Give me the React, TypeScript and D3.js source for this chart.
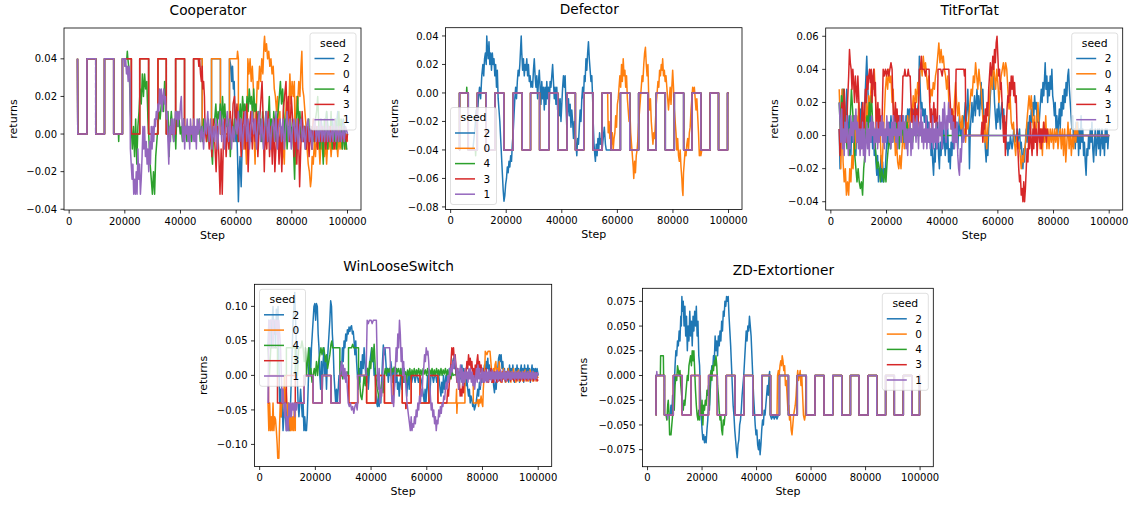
import React from 'react';
import * as d3 from 'd3';

type P = [number, number];

const seeds = ['2', '0', '4', '3', '1'];
const colors = ['#1f77b4', '#ff7f0e', '#2ca02c', '#d62728', '#9467bd'];
const xTicks = [0, 20000, 40000, 60000, 80000, 100000];
const xDomain = [-1850, 104850];

const seg = (a: P[], lo: number, hi: number): P[] => a.filter(p => p[0] >= lo && p[0] <= hi);

// ---------------- Cooperator ----------------
const coopWave: P[] = [[3000,.04],[3100,0],[6400,0],[6400,.04],[9550,.04],[9550,0],[12700,0],[12700,.04],[16000,.04],[16000,0],[19150,0],[19150,.04]];
const coopWave2: P[] = [[22350,.04],[22350,0],[25350,0],[25350,.04],[28550,.04],[28550,0],[31900,0],[31900,.04],[34900,.04],[34900,0],[38250,0],[38250,.04],[41450,.04],[41450,0],[44700,0],[44700,.04],[47800,.04],[47800,0],[51150,0],[51150,.04],[54350,.04],[54350,0],[57600,0],[57600,.04]];

const coopBlue: P[] = [...coopWave, ...coopWave2,
  [58100,.036],[58400,.028],[58700,.036],[59000,.024],[59300,.028],[59600,.008],[59900,-.004],[60200,.004],[60500,-.012],[60800,-.036],[61100,-.02],[61400,-.012],[61800,-.028],[62200,-.004],[62600,.004],
  [63500,-.004],[64500,.004],[65500,-.004],[66500,.004],[67500,-.004],[68500,.004],[69500,-.004],[70500,.004],[71500,-.004],[72500,.004],[73500,-.004],[74500,.004],[75500,-.004],[76500,.004],[77500,-.004],[78500,.004],[79500,-.004],[80500,.004],[81500,-.004],[82500,.004],[83500,-.004],[84500,.004],[85500,-.004],[86500,.004],[87500,-.004],[88500,.004],[89500,-.004],[90500,.008],[91500,-.004],[92500,.012],[93500,-.004],[94500,.008],[95500,-.004],[96500,.012],[97500,0],[98500,.008],[99500,-.004],[100000,0]];

const coopOrange: P[] = [...coopWave, ...coopWave2,
  [60300,.04],[60500,.044],[60800,.04],[60800,0],[61300,.004],[61800,-.004],[62300,.004],[62800,-.008],[63300,0],[63700,-.016],[64000,.004],[64200,.04],[64600,.032],[65000,.04],[65400,.028],[65800,.036],[66200,.024],[66500,-.004],[66800,-.016],[67200,.012],[67600,.028],[68000,.024],[68400,.036],[68800,.028],[69200,.04],[69600,.032],[70000,.048],[70200,.052],[70500,.044],[70900,.048],[71300,.04],[71700,.044],[72100,.036],[72500,.04],[72900,.032],[73300,.036],[73700,.024],[74100,.02],[74500,.012],[74900,.02],[75300,.004],[75700,.012],[76100,-.008],[76500,-.016],[76900,-.004],[77300,-.016],[77700,.008],[78100,.02],[78500,.004],[78900,.012],[79300,.032],[79700,.016],[80100,.028],[80500,.02],[80900,.028],[81300,-.016],[81700,.02],[82100,.016],[82500,.028],[82900,.02],[83300,.036],[83600,.044],[83900,.024],[84300,.02],[84700,.012],[85100,.004],[85500,-.008],[85900,-.016],[86300,-.02],[86700,-.028],[87000,-.024],[87300,-.012],[87700,-.016],[88100,-.004],[88500,-.012],[88900,0],[89300,-.008],[89700,-.004],[90100,-.016],[90500,-.004],[90900,-.008],[91300,0],[91700,-.012],[92100,-.004],[92500,-.016],[92900,-.004],[93300,-.008],[93700,0],[94100,-.012],[94500,-.004],[94900,-.008],[95300,0],[95700,-.008],[96100,-.004],[96500,-.012],[96900,0],[97300,-.008],[97700,-.004],[98100,-.008],[98500,0],[98900,-.004],[99300,-.008],[99700,0],[100000,-.004]];

const coopGreen: P[] = [...seg(coopWave, 3000, 16000), [17700,0],[17800,-.004],[17900,0],[19150,0],[19150,.04],
  [20700,.04],[20900,.044],[21100,.04],[21400,.036],[21700,.028],[22000,.012],[22300,.004],[22700,-.008],[23100,.004],[23500,-.012],[23900,.008],[24300,-.016],[24700,.004],[25100,.012],[25500,.024],[25900,.016],[26300,.032],[26700,.02],[27100,.032],[27500,.024],[27900,.028],[28300,.008],[28700,-.004],[29100,-.016],[29500,-.024],[29900,-.032],[30300,-.02],[30700,-.032],[31100,-.012],[31500,-.004],[31900,.004],[32300,.012],[32700,.008],[33100,.016],[33500,.02],[33900,.012],[34300,.028],[34700,.016],[35100,.008],[35500,.012],[35900,-.012],[36300,.004],[36700,.012],[37100,.004],[37500,-.004],[37900,.008],[38300,-.008],[38700,.012],[39100,.004],[39500,.008],[39900,0],[40300,.004],[40700,-.004],[41100,.008],[41500,0],[41900,.004],[42300,-.004],[42700,.004],[43100,0],[43500,.004],[43900,-.004],[44300,.004],[44700,0],[45100,.004],[45500,-.004],[45900,.004],[46300,0],[46700,.008],[47100,-.004],[47500,.004],[47900,-.004],[48300,.008],[48700,0],[49100,.004],[49500,-.004],[49900,.008],[50300,-.004],[50700,.004],[51100,-.008],[51500,-.016],[51900,.004],[52300,.008],[52700,.016],[53100,.004],[53500,.012],[53900,.008],[54300,.016],[54700,.004],[55100,.02],[55500,.008],[55900,.016],[56300,.004],[56700,.008],[57100,-.004],[57500,.008],[57900,-.012],[58300,.004],[58700,.008],[59100,-.004],[59500,.008],[59900,0],[60300,.004],[60700,-.004],[61100,.008],[61500,.016],[61900,.004],[62300,.02],[62700,.012],[63100,.016],[63500,.008],[63900,.02],[64300,.012],[64700,.024],[65100,.016],[65500,.02],[65900,.008],[66300,.024],[66700,.012],[67100,.016],[67500,.004],[67900,.012],[68300,0],[68700,.008],[69100,-.004],[69500,.012],[69900,-.008],[70300,.004],[70700,.012],[71100,-.004],[71500,.008],[71900,.02],[72300,0],[72700,.008],[73100,-.008],[73500,.012],[73900,.004],[74300,-.004],[74700,.008],[75100,.012],[75500,.02],[75900,.028],[76300,.016],[76700,.024],[77100,.012],[77500,0],[77900,.008],[78300,-.008],[78700,.004],[79100,-.004],[79500,.008],[79900,0],[80300,.004],[80700,-.012],[81000,-.024],[81300,-.004],[81700,.008],[82100,.02],[82500,.004],[82900,.012],[83300,0],[83700,.008],[84100,-.004],[84500,.004],[84900,-.008],[85300,.004],[85700,-.004],[86100,.008],[86500,-.004],[86900,.004],[87300,-.008],[87700,.004],[88100,-.004],[88500,.008],[88900,.012],[89300,.02],[89700,.004],[90100,-.008],[90500,.004],[90900,-.004],[91300,-.016],[91700,.008],[92100,-.004],[92500,.012],[92900,-.008],[93300,.004],[93700,-.004],[94100,.012],[94500,-.008],[94900,.004],[95300,-.004],[95700,.008],[96100,-.008],[96500,.004],[96900,.012],[97300,-.004],[97700,.008],[98100,-.008],[98500,.004],[98900,-.008],[99300,0],[99700,-.008],[100000,-.008]];

const coopRed: P[] = [...coopWave, ...seg(coopWave2, 22350, 44700),
  [46400,.04],[46600,.036],[46900,.04],[47200,.032],[47500,.028],[47800,.036],[48000,.024],[48300,.028],[48600,.02],[48800,.004],[49300,-.004],[49800,.008],[50300,-.008],[50800,.004],[51300,-.012],[51800,.008],[52300,-.004],[52800,-.02],[53300,.004],[53800,-.012],[54200,-.032],[54600,-.008],[55000,-.032],[55400,-.004],[55900,.008],[56400,-.012],[56900,.004],[57400,-.008],[57900,.012],[58400,-.004],[58900,.016],[59400,.02],[59800,.004],[60300,.016],[60800,-.004],[61300,.008],[61800,-.012],[62300,.004],[62800,.012],[63300,-.008],[63800,.016],[64300,-.02],[64800,.004],[65300,.012],[65800,-.008],[66300,.008],[66800,-.004],[67300,.012],[67800,-.012],[68300,.004],[68800,.016],[69300,.028],[69700,.008],[70100,-.02],[70500,.004],[71000,-.008],[71500,.012],[72000,-.012],[72500,.004],[73000,-.016],[73500,.008],[73900,-.02],[74400,-.004],[74900,.008],[75400,-.016],[75900,.004],[76400,-.02],[76900,.012],[77400,.02],[77900,.028],[78300,.008],[78800,.02],[79300,-.004],[79800,.02],[80300,.008],[80800,-.012],[81300,.004],[81800,-.016],[82300,.008],[82800,-.028],[83200,-.008],[83700,.012],[84200,-.004],[84700,.004],[85200,-.008],[85700,.004],[86200,-.012],[86700,.004],[87200,-.008],[87700,.008],[88200,-.004],[88700,.004],[89200,-.008],[89700,0],[90200,-.004],[90700,.004],[91200,-.004],[91700,0],[92200,-.008],[92700,0],[93200,-.004],[93700,.004],[94200,-.004],[94700,0],[95200,-.008],[95700,-.004],[96200,0],[96700,-.004],[97200,.004],[97700,-.004],[98200,0],[98700,-.004],[99200,0],[99700,-.004],[100000,0]];

const coopPurple: P[] = [...coopWave,
  [19800,.04],[20000,.036],[20300,.04],[20600,.032],[20900,.036],[21200,.028],[21500,.036],[21800,.032],[22000,-.008],[22300,-.016],[22600,-.024],[22900,-.016],[23200,-.032],[23500,-.024],[23800,-.032],[24100,-.02],[24400,-.032],[24700,-.008],[25000,-.024],[25300,-.016],[25600,-.032],[25900,-.024],[26200,-.012],[26500,.004],[26800,-.008],[27100,.004],[27400,-.012],[27700,-.004],[28000,-.016],[28300,-.008],[28600,-.02],[28900,-.004],[29200,-.016],[29500,.004],[29800,-.008],[30100,.004],[30400,-.004],[30700,.008],[31000,.004],[31300,.012],[31600,.008],[31900,.016],[32200,.012],[32500,.024],[32800,.016],[33100,.024],[33400,.012],[33700,.02],[34000,.024],[34300,.016],[34600,.02],[34900,.008],[35200,.012],[35500,-.004],[35800,-.016],[36100,.004],[36400,-.004],[36700,.008],[37000,0],[37300,.008],[37600,-.004],[37900,.004],[38200,.012],[38500,.008],[38800,.012],[39100,.004],[39400,.012],[39700,.008],[40000,.016],[40300,.02],[40600,.004],[40900,-.004],[41200,.008],[41500,-.008],[41800,.004],[42100,0],[42400,.008],[42700,-.004],[43000,.004],[43300,-.008],[43600,.008],[43900,0],[44200,.004],[44500,-.004],[44800,.008],[45100,-.004],[45400,.004],[45700,-.008],[46000,.008],[46300,0],
  [46800,.008],[47300,-.004],[47800,.004],[48300,-.008],[48800,.008],[49300,0],[49800,.012],[50300,-.004],[50800,.008],[51300,-.008],[51800,.004],[52300,-.004],[52800,.008],[53300,-.008],[53800,.004],[54300,.012],[54800,-.004],[55300,.008],[55800,-.008],[56300,.004],[56800,.012],[57300,-.004],[57800,.008],[58300,-.008],[58800,.004],[59300,-.004],[59800,.008],[60300,0],[60800,.012],[61300,-.004],[61800,.008],[62300,-.008],[62800,.004],[63300,.012],[63800,-.004],[64300,.008],[64800,-.008],[65300,.004],[65800,.012],[66300,0],[66800,.008],[67300,-.008],[67800,.004],[68300,.012],[68800,-.004],[69300,.008],[69800,-.008],[70300,.004],[70800,.012],[71300,-.004],[71800,.008],[72300,-.008],[72800,.004],[73300,.008],[73800,-.004],[74300,.012],[74800,-.008],[75300,.004],[75800,.008],[76300,-.004],[76800,.008],[77300,-.008],[77800,.004],[78300,.012],[78800,-.004],[79300,.008],[79800,-.008],[80300,.004],[80800,.008],[81300,-.004],[81800,.008],[82300,-.008],[82800,.004],[83300,.008],[83800,-.004],[84300,.004],[84800,-.008],[85300,.004],[85800,.008],[86300,-.004],[86800,.004],[87300,-.008],[87800,.004],[88300,.008],[88800,-.004],[89300,.004],[89800,-.004],[90300,.008],[90800,-.004],[91300,.004],[91800,-.004],[92300,.008],[92800,-.004],[93300,.004],[93800,-.004],[94300,.004],[94800,-.004],[95300,.008],[95800,-.004],[96300,.004],[96800,-.004],[97300,.004],[97800,-.004],[98300,.004],[98800,-.004],[99300,.004],[100000,0]];

// ---------------- Defector ----------------
const defWave: P[] = [[3000,-.04],[3200,-.04],[3200,0],[6350,0],[6350,-.04],[9600,-.04],[9600,0],[12800,0],[12800,-.04],[15950,-.04],[15950,0],[19150,0],[19150,-.04],[22500,-.04],[22500,0],[25750,0],[25750,-.04],[28750,-.04],[28750,0],[32000,0],[32000,-.04],[35350,-.04],[35350,0],[38550,0],[38550,-.04],[41900,-.04],[41900,0],[44900,0],[44900,-.04],[47900,-.04],[47900,0],[51250,0],[51250,-.04],[54500,-.04],[54500,0],[57700,0],[57700,-.04],[61100,-.04],[61100,0],[64450,0],[64450,-.04],[67650,-.04],[67650,0],[71000,0],[71000,-.04],[74000,-.04],[74000,0],[77250,0],[77250,-.04],[80500,-.04],[80500,0],[83850,0],[83850,-.04],[86850,-.04],[86850,0],[90050,0],[90050,-.04],[93400,-.04],[93400,0],[96400,0],[96400,-.04],[99650,-.04],[99650,0],[100000,0]];

const defBlue: P[] = [...seg(defWave, 3000, 6350),
  [8000,-.04],[8400,-.032],[8800,-.024],[9200,-.012],[9600,-.016],[10000,-.004],[10400,.004],[10800,-.004],[11200,.012],[11600,.02],[11900,.012],[12200,.024],[12500,.028],[12800,.02],[13000,.04],[13200,.032],[13500,.024],[13800,.036],[14100,.02],[14400,.028],[14700,.016],[15000,.028],[15300,.02],[15600,.024],[15900,.012],[16200,.02],[16500,.004],[16800,.016],[17100,-.004],[17400,-.012],[17700,-.02],[18000,-.032],[18300,-.044],[18600,-.056],[18900,-.068],[19200,-.076],[19500,-.072],[19800,-.064],[20100,-.06],[20400,-.052],[20700,-.056],[21000,-.048],[21300,-.052],[21600,-.044],[21900,-.048],[22200,-.036],[22500,-.028],[22800,-.016],[23100,-.004],[23400,.004],[23700,-.004],[24000,.008],[24300,.016],[24600,.012],[24900,.02],[25200,.032],[25400,.04],[25600,.028],[25900,.016],[26200,.024],[26500,.012],[26800,.02],[27100,.016],[27400,.024],[27700,.012],[28000,.02],[28300,.008],[28600,.012],[28900,.004],[29200,.008],[29500,.004],[29800,.016],[30100,.024],[30400,.012],[30700,.004],[31000,.012],[31300,-.004],[31600,.008],[31900,.016],[32200,.004],[32500,-.008],[32800,.008],[33100,-.004],[33400,.004],[33700,-.012],[34000,.004],[34300,-.008],[34600,.008],[34900,-.004],[35200,.004],[35500,-.008],[35800,.008],[36100,.004],[36400,.012],[36700,.02],[37000,.008],[37300,-.004],[37600,.004],[37900,-.008],[38200,.004],[38500,-.012],[38800,-.004],[39100,-.016],[39400,-.004],[39700,-.02],[40000,-.008],[40300,.004],[40600,.012],[40900,.004],[41200,.012],[41500,-.008],[41800,-.024],[42100,-.012],[42400,-.004],[42700,-.016],[43000,-.008],[43300,-.024],[43600,-.012],[43900,-.02],[44200,-.032],[44500,-.02],[44800,-.028],[45100,-.036],[45400,-.044],[45700,-.032],[46000,-.036],[46300,-.024],[46600,-.012],[46900,-.02],[47200,-.004],[47500,.004],[47800,-.004],[48100,.012],[48400,.008],[48700,.024],[49000,.016],[49300,.028],[49600,.036],[49900,.024],[50200,.016],[50500,.008],[50800,.012],[51100,-.004],[51300,-.02],[51600,-.036],[51900,-.044],[52100,-.048],[52400,-.036],[52700,-.044],[53000,-.032],[53300,-.04],[53600,-.028],[53900,-.036],[54200,-.032],[54500,-.04],[54900,-.032],[55300,-.024],[55700,-.036],[56000,-.04],
  ...seg(defWave, 61100, 100000)];

const defOrange: P[] = [...seg(defWave, 3000, 54500),
  [56500,0],[56700,-.028],[57000,-.02],[57300,-.032],[57600,-.024],[57900,-.036],[58200,-.028],[58500,-.04],[58800,-.032],[59100,-.028],[59400,-.016],[59700,-.024],[60000,-.008],[60300,-.004],[60600,.004],[60900,.012],[61200,.004],[61500,.02],[61800,.008],[62100,.024],[62400,.012],[62700,.016],[63000,.004],[63300,.012],[63600,-.004],[63900,-.012],[64200,-.02],[64500,-.012],[64800,-.028],[65100,-.036],[65400,-.044],[65700,-.052],[65900,-.06],[66200,-.048],[66500,-.056],[66800,-.044],[67100,-.04],[67400,-.032],[67700,-.02],[68000,-.012],[68300,-.004],[68600,.004],[68900,.012],[69200,.008],[69500,.02],[69800,.028],[70100,.032],[70400,.02],[70700,.012],[71000,.02],[71300,-.004],[71600,-.012],[71900,-.004],[72200,-.02],[72500,-.028],[72800,-.036],[73100,-.028],[73400,-.032],[73700,-.02],[74000,-.008],[74300,0],[74600,.008],[74900,.004],[75200,.016],[75500,.012],[75800,.02],[76100,.016],[76300,.024],[76600,.012],[76900,.016],[77200,.008],[77500,.012],[77800,.004],[78100,-.004],[78400,-.012],[78700,-.004],[79000,.004],[79300,-.008],[79600,.004],[79900,.016],[80200,.004],[80500,-.012],[80800,-.02],[81100,-.028],[81400,-.04],[81700,-.032],[82000,-.044],[82300,-.048],[82600,-.04],[82900,-.052],[83200,-.06],[83400,-.068],[83600,-.072],[83800,-.056],[84100,-.048],[84400,-.04],[84700,-.044],[85000,-.036],[85300,-.032],[85600,-.04],[85900,-.028],[86200,-.024],[86500,-.012],[86800,-.004],[87100,.004],[87400,0],[87700,.004],[88000,-.004],[88300,-.012],[88600,-.004],[88900,-.016],[89200,-.028],[89500,-.044],[89800,-.04],[90050,-.044],[90400,-.04],
  ...seg(defWave, 93400, 100000)];

const defGreen: P[] = [[3000,-.04],[3200,-.04],[3200,0],[5700,0],[5800,.004],[5900,0],[6350,0],[6350,-.04],[8900,-.04],[9000,-.044],[9100,-.04], ...seg(defWave, 9600, 100000)];
const defRed: P[] = defWave;
const defPurple: P[] = defWave;

// ---------------- TitForTat ----------------
const ttBlue: P[] = [[3000,.004],[3300,-.02],[3600,-.008],[3900,.012],[4200,.028],[4500,.004],[4800,.02],[5100,-.004],[5400,.012],[5700,.028],[6000,.008],[6300,-.008],[6600,.012],[6900,.004],[7200,-.012],[7500,.008],[7800,-.004],[8100,.012],[8400,-.008],[8700,.004],[9000,-.012],[9300,.008],[9600,-.004],[9900,.012],[10200,0],[10500,.016],[10800,.004],[11100,.02],[11400,.008],[11700,-.004],[12000,.012],[12300,.024],[12600,.036],[12900,.048],[13200,.032],[13500,.02],[13800,.008],[14100,.016],[14400,-.004],[14700,.008],[15000,-.008],[15300,.004],[15600,-.012],[15900,-.004],[16200,-.016],[16500,-.024],[16800,-.012],[17100,-.028],[17400,-.02],[17700,-.024],[18000,-.012],[18300,-.028],[18600,-.016],[18900,-.028],[19200,-.02],[19500,-.024],[19800,-.012],[20100,-.004],[20400,.004],[20700,-.008],[21000,.008],[21300,0],[21600,.012],[21900,.004],[22200,-.004],[22500,.008],[22800,0],[23100,.012],[23400,-.004],[23700,.008],[24000,-.008],[24300,.004],[24600,.012],[24900,0],[25200,.008],[25500,-.004],[25800,.012],[26100,.004],[26400,.008],[26700,-.004],[27000,.012],[27300,.004],[27600,.016],[27900,.008],[28200,.016],[28500,.008],[28800,.016],[29100,.012],[29400,.016],[29700,.008],[30000,.016],[30300,.012],[30600,.016],[30900,.008],[31200,.016],[31500,.02],[31800,.048],[32100,.028],[32400,.016],[32700,.02],[33000,.012],[33300,.016],[33600,.008],[33900,.016],[34200,.004],[34500,.012],[34800,.004],[35100,.008],[35400,-.004],[35700,.004],[36000,-.012],[36300,-.004],[36600,-.016],[36900,-.024],[37200,-.008],[37500,-.016],[37800,.004],[38100,-.008],[38400,.008],[38700,-.012],[39000,-.02],[39300,-.004],[39600,-.012],[39900,.004],[40200,-.008],[40500,.008],[40800,-.004],[41100,-.012],[41400,0],[41700,-.008],[42000,.004],[42300,-.016],[42600,-.008],[42900,-.02],[43200,-.004],[43500,-.012],[43800,.004],[44100,-.008],[44400,.008],[44700,.012],[45000,-.004],[45300,.008],[45600,-.008],[45900,.004],[46200,.012],[46500,0],[46800,.008],[47100,-.004],[47400,.012],[47700,.004],[48000,.012],[48300,.02],[48600,.008],[48900,.016],[49200,.028],[49500,.012],[49800,-.02],[50100,.004],[50400,.012],[50700,.02],[51000,.008],[51300,.016],[51600,.024],[51900,.012],[52200,.02],[52500,.028],[52800,.016],[53100,.024],[53400,.012],[53700,.02],[54000,.032],[54300,.016],[54600,.028],[54900,.012],[55200,.004],[55500,-.008],[55800,-.016],[56100,-.004],[56400,-.012],[56700,.004],[57000,.012],[57300,.024],[57600,.032],[57900,.04],[58200,.028],[58500,.036],[58800,.02],[59100,.012],[59400,.004],[59700,.016],[60000,.008],[60300,.02],[60600,.012],[60900,.004],[61200,.016],[61500,.02],[61800,.008],[62100,.016],[62400,0],[62700,.008],[63000,-.008],[63300,-.004],[63600,-.012],[63900,-.004],[64200,-.008],[64500,0],[64800,-.004],[65100,-.008],[65400,-.004],[65700,.004],[66000,-.004],[66300,0],[66600,-.004],[66900,.004],[67200,-.004],[67500,0],[67800,.004],[68100,-.008],[68400,-.004],[68700,-.012],[69000,-.02],[69300,-.008],[69600,-.016],[69900,-.004],[70200,.004],[70500,-.004],[70800,.008],[71100,0],[71400,.012],[71700,.004],[72000,.016],[72300,.008],[72600,.02],[72900,.012],[73200,.024],[73500,.016],[73800,.02],[74100,.008],[74400,.016],[74700,.004],[75000,.012],[75300,.02],[75600,.028],[75900,.02],[76200,.032],[76500,.024],[76800,.036],[77000,.044],[77300,.028],[77600,.036],[77900,.02],[78200,.032],[78500,.024],[78800,.036],[79100,.028],[79400,.04],[79700,.024],[80000,.02],[80300,.012],[80600,.02],[80900,.004],[81200,.012],[81500,0],[81800,.008],[82100,.016],[82400,.004],[82700,.02],[83000,.012],[83300,.024],[83600,.016],[83900,.028],[84200,.02],[84500,.032],[84800,.024],[85100,.036],[85400,.04],[85700,.028],[86000,.02],[86300,.012],[86600,.004],[86900,.012],[87200,-.004],[87500,.004],[87800,-.008],[88100,.008],[88400,-.004],[88700,.008],[89000,-.012],[89300,.004],[89600,-.008],[89900,.012],[90200,-.004],[90500,.004],[90800,-.012],[91100,-.004],[91400,-.016],[91700,-.024],[92000,-.008],[92300,-.012],[92600,0],[92900,-.008],[93200,.004],[93500,-.004],[93800,.008],[94100,-.008],[94400,-.016],[94700,-.004],[95000,.004],[95300,-.012],[95600,-.004],[95900,.004],[96200,-.008],[96500,.004],[96800,-.012],[97100,-.004],[97400,.004],[97700,-.008],[98000,0],[98300,-.012],[98600,.004],[98900,-.004],[99200,.004],[99500,-.008],[99800,0],[100000,0]];

const ttOrange: P[] = [[3000,.028],[3300,.012],[3600,-.02],[4000,.028],[4400,-.016],[4800,-.028],[5200,-.02],[5600,-.036],[6000,-.028],[6400,-.036],[6800,-.02],[7200,-.028],[7600,-.012],[8000,-.02],[8400,.004],[8800,-.008],[9200,.012],[9600,-.004],[10000,.02],[10400,.004],[10800,-.008],[11200,.008],[11600,-.004],[12000,.012],[12400,.004],[12800,.02],[13200,.008],[13600,.024],[14000,.016],[14400,.028],[14800,.036],[15200,.028],[15600,.04],[16000,.024],[16400,.004],[16800,.016],[17200,-.004],[17600,.008],[18000,-.012],[18400,-.02],[18800,-.004],[19200,.012],[19600,.028],[20000,.036],[20400,.028],[20800,.04],[21200,.032],[21600,.036],[22000,.02],[22400,.028],[22800,.004],[23200,-.012],[23600,-.004],[24000,-.016],[24400,-.02],[24800,-.012],[25200,-.02],[25600,-.008],[26000,.004],[26400,-.008],[26800,.008],[27200,-.004],[27600,.012],[28000,0],[28400,.008],[28800,.016],[29200,.012],[29600,.024],[30000,.016],[30400,.028],[30800,.02],[31200,.032],[31600,.024],[32000,.04],[32400,.044],[32800,.036],[33200,.048],[33600,.04],[34000,.044],[34400,.036],[34800,.028],[35200,.036],[35600,.02],[36000,.028],[36400,.024],[36800,.032],[37200,.028],[37600,.036],[38000,.04],[38400,.048],[38800,.056],[39200,.044],[39600,.052],[40000,.044],[40400,.048],[40800,.04],[41200,.036],[41600,.028],[42000,.036],[42400,.02],[42800,.012],[43200,.004],[43600,.016],[44000,.008],[44400,.02],[44800,.032],[45200,.02],[45600,.012],[46000,.02],[46400,.008],[46800,.004],[47200,.012],[47600,0],[48000,.004],[48400,-.004],[48800,.008],[49200,.004],[49600,.012],[50000,.02],[50400,.028],[50800,.024],[51200,.036],[51600,.032],[52000,.044],[52400,.036],[52800,.028],[53200,.04],[53600,.032],[54000,.028],[54400,.016],[54800,.004],[55200,-.004],[55600,.008],[56000,-.008],[56400,.004],[56800,.012],[57200,.028],[57600,.036],[58000,.028],[58400,.044],[58800,.036],[59200,.028],[59600,.04],[60000,.032],[60400,.02],[60800,.028],[61200,.036],[61600,.04],[62000,.044],[62400,.036],[62800,.044],[63200,.04],[63600,.028],[64000,.016],[64400,.024],[64800,.008],[65200,.004],[65600,.008],[66000,-.004],[66400,-.012],[66800,0],[67200,-.008],[67600,-.004],[68000,-.012],[68400,-.02],[68800,-.012],[69200,-.016],[69600,-.008],[70000,-.004],[70400,.008],[70800,.016],[71200,.024],[71600,.016],[72000,.024],[72400,.012],[72800,.004],[73200,.012],[73600,-.004],[74000,.008],[74400,.02],[74800,.004],[75200,-.008],[75600,.004],[76000,-.012],[76400,.008],[76800,-.004],[77200,.012],[77600,-.008],[78000,.004],[78400,-.008],[78800,.004],[79200,-.004],[79600,.004],[80000,-.008],[80400,.004],[80800,-.004],[81200,.004],[81600,-.008],[82000,0],[82400,.004],[82800,-.008],[83200,.004],[83600,-.012],[84000,.004],[84400,-.016],[84800,-.004],[85200,.008],[85600,-.008],[86000,.004],[86400,-.012],[86800,0],[87200,-.008],[87600,.004],[88000,-.004],[88400,.008],[88800,0],[100000,0]];

const ttGreen: P[] = [[3000,.02],[3400,.004],[3800,.024],[4200,.012],[4600,.028],[5000,.016],[5400,.004],[5800,-.008],[6200,.004],[6600,-.012],[7000,.012],[7400,.028],[7800,.016],[8200,.004],[8600,-.012],[9000,-.02],[9400,-.028],[9800,-.02],[10200,-.028],[10600,-.032],[11000,-.028],[11400,-.036],[11800,-.02],[12200,-.012],[12600,.004],[13000,.012],[13400,.004],[13800,.02],[14200,.012],[14600,.024],[15000,.008],[15400,.004],[15800,-.004],[16200,-.012],[16600,-.02],[17000,-.016],[17400,-.02],[17800,-.028],[18200,-.02],[18600,-.024],[19000,-.028],[19400,-.02],[19800,-.028],[20200,-.016],[20600,-.008],[21000,0],[21400,-.008],[21800,.004],[22200,-.004],[22600,.008],[23000,0],[23400,.008],[23800,-.004],[24200,.004],[24600,-.008],[25000,.004],[25400,0],[25800,.008],[26200,-.004],[26600,.004],[27000,0],[27400,.008],[27800,-.004],[28200,.004],[28600,0],[29000,.004],[29400,-.004],[29800,.004],[30200,0],[30600,.004],[31000,0],[48400,0],[100000,0]];

const ttRed: P[] = [[3000,.004],[3300,-.012],[3600,.008],[4000,.02],[4400,.004],[4800,.028],[5200,.012],[5600,-.004],[6000,.02],[6400,.036],[6700,.052],[7000,.044],[7300,.04],[7600,.028],[7900,.04],[8200,.032],[8500,.02],[8800,.036],[9100,.028],[9400,.02],[9700,.036],[10000,.024],[10300,.008],[10600,-.008],[10900,.004],[11200,.016],[11500,.02],[11800,-.004],[12100,.012],[12400,.028],[12700,.02],[13000,.036],[13300,.028],[13600,.036],[13900,.04],[14200,.032],[14500,.04],[14800,.02],[15100,.036],[15400,.04],[15700,.024],[16000,.032],[16300,.004],[16600,.012],[16900,.02],[17200,.004],[17500,.016],[17800,0],[18100,.012],[18400,.008],[18800,.04],[19200,.036],[19600,.04],[20000,.036],[20400,.04],[20800,.036],[21200,.04],[21600,.044],[22000,.04],[22300,.02],[22600,.004],[22900,.012],[23200,.02],[23500,.008],[23800,.016],[24100,.004],[24400,.012],[24700,0],[25000,.012],[25300,.008],[25600,.016],[25900,.036],[26300,.036],[26600,.04],[26900,.036],[27500,.036],[27800,.04],[28100,.036],[28500,.036],[28800,.02],[29100,.008],[29400,.016],[29700,.004],[30000,.012],[30300,.02],[30600,.008],[30900,.016],[31200,.004],[31500,.012],[31800,.04],[32200,.04],[32500,.048],[32800,.04],[33500,.04],[34000,.036],[34300,.04],[35300,.04],[35500,.02],[35800,.008],[36100,.016],[36400,.004],[36700,.012],[37000,.02],[37300,.008],[37600,.016],[37900,.004],[38300,.012],[38500,.04],[39500,.04],[40000,.036],[40300,.04],[42400,.04],[42600,.028],[42900,.02],[43200,.008],[43500,.016],[43800,.004],[44100,.012],[44400,0],[44700,.008],[45000,.04],[47800,.04],[48000,.036],[48300,.04],[48500,0],[54000,0],[54300,.008],[54600,-.004],[54900,.012],[55200,.004],[55500,.016],[55800,.008],[56100,.02],[56400,.012],[56700,.028],[57000,.036],[57300,.044],[57600,.036],[57900,.04],[58200,.048],[58500,.04],[58800,.052],[59100,.044],[59400,.056],[59700,.06],[60000,.048],[60300,.036],[60600,.04],[60900,.028],[61200,.032],[61500,.02],[61800,.008],[62100,-.004],[62400,.012],[62700,-.012],[63000,.004],[63300,.016],[63600,.024],[63900,.02],[64200,.032],[64500,.024],[64800,.036],[65100,.028],[65400,.036],[65700,.024],[66000,.032],[66300,.02],[66600,.024],[66900,.004],[67200,-.008],[67500,-.02],[67800,-.028],[68100,-.024],[68400,-.036],[68700,-.032],[69000,-.04],[69300,-.028],[69600,-.04],[69900,-.032],[70200,-.02],[70500,-.008],[70800,-.016],[71100,0],[71400,-.008],[71700,.008],[72000,-.004],[72300,-.012],[72600,.004],[72900,-.008],[73200,.008],[73500,-.004],[73800,.004],[74100,-.012],[74400,0],[74700,.008],[75000,-.004],[75300,.004],[75600,-.008],[75900,.004],[76200,-.004],[76500,.008],[76800,0],[77100,.004],[77400,-.004],[77700,.004],[78000,0],[100000,0]];

const ttPurple: P[] = [[3000,.02],[3300,.008],[3600,-.004],[3900,.016],[4200,-.008],[4500,.004],[4800,-.012],[5100,.008],[5400,-.004],[5700,.012],[6000,0],[6300,-.012],[6600,.004],[6900,-.008],[7200,.012],[7500,0],[7800,.008],[8100,-.004],[8400,.012],[8700,.004],[9000,.016],[9300,-.004],[9600,.008],[9900,-.008],[10200,.004],[10500,-.012],[10800,.004],[11100,-.008],[11400,.008],[11700,-.012],[12000,.004],[12300,-.016],[12600,-.004],[12900,.008],[13200,-.008],[13500,.004],[13800,-.012],[14100,.008],[14400,-.004],[14700,.012],[15000,0],[15300,.008],[15600,-.008],[15900,.004],[16200,-.004],[16500,.008],[16800,-.008],[17100,.004],[17400,-.004],[17700,.008],[18000,0],[18300,.012],[18600,-.004],[18900,.008],[19200,-.008],[19500,.004],[19800,-.004],[20100,.012],[20400,0],[20700,.008],[21000,-.004],[21300,.004],[21600,-.008],[21900,.008],[22200,-.004],[22500,.012],[22800,0],[23100,.008],[23400,-.004],[23700,.004],[24000,-.008],[24300,.008],[24600,0],[24900,.012],[25200,-.004],[25500,.008],[25800,.004],[26100,.012],[26400,-.004],[26700,.008],[27000,-.008],[27300,.004],[27600,-.012],[27900,.004],[28200,-.004],[28500,.008],[28800,-.012],[29100,.004],[29400,-.008],[29700,.012],[30000,0],[30300,.008],[30600,-.004],[30900,.012],[31200,.004],[31500,-.008],[31800,.008],[32100,0],[32400,.016],[32700,-.004],[33000,.008],[33300,-.008],[33600,.004],[33900,-.004],[34200,.012],[34500,-.008],[34800,.004],[35100,-.004],[35400,.008],[35700,-.008],[36000,.004],[36300,-.004],[36600,.012],[36900,-.008],[37200,.004],[37500,-.004],[37800,.008],[38100,-.008],[38400,.004],[38700,-.004],[39000,.012],[39300,0],[39600,.008],[39900,-.008],[40200,.016],[40500,.004],[40800,.02],[41100,.008],[41400,-.004],[41700,.012],[42000,.004],[42300,.02],[42600,.008],[42900,.016],[43200,.004],[43500,.012],[43800,-.004],[44100,.008],[44400,-.008],[44700,.004],[45000,-.004],[45300,.008],[45600,-.012],[45900,-.02],[46200,-.024],[46500,-.008],[46800,-.016],[47100,-.004],[47400,.004],[47700,-.004],[48000,0],[100000,0]];

// ---------------- WinLooseSwitch ----------------
const wlsWave: P[] = [[12800,-.04],[16000,-.04],[16000,0],[19200,0],[19200,-.04],[22400,-.04],[22400,0],[25600,0],[25600,-.04],[28800,-.04],[28800,0],[32000,0],[32000,-.04],[35200,-.04],[35200,0],[38400,0],[38400,-.04],[41600,-.04],[41600,0],[44800,0],[44800,-.04],[48000,-.04],[48000,0],[51200,0],[51200,-.04],[52400,-.04],[52500,-.048],[52700,-.04],[54400,-.04],[54400,0],[57600,0],[57600,-.04],[60800,-.04],[60800,0],[64000,0],[64000,-.04],[67200,-.04]];

const wlsBlue: P[] = [[3000,.04],[3300,.08],[3600,.06],[3900,.08],[4200,.04],[4500,.08],[4800,.1],[5100,.06],[5400,.08],[5700,.04],[6000,.096],[6300,.06],[6600,.1],[6900,.02],[7200,-.04],[7500,-.02],[7800,-.06],[8100,-.04],[8400,-.08],[8700,-.06],[9000,-.02],[9300,-.06],[9600,-.08],[9900,-.04],[10200,-.08],[10500,-.06],[10800,-.08],[11100,-.04],[11400,0],[11700,.04],[12000,.08],[12300,.1],[12600,.12],[12900,.08],[13200,.04],[13500,0],[13800,-.04],[14100,-.06],[14400,-.04],[14700,-.02],[15000,-.04],[15300,-.06],[15600,-.04],[15900,-.08],[16200,-.06],[16500,-.08],[16800,-.08],[17100,-.06],[17400,-.02],[17700,.02],[18000,.04],[18300,0],[18600,.04],[18900,.06],[19200,.08],[19500,.1],[19800,.104],[20100,.08],[20400,.104],[20700,.1],[21000,.06],[21300,.04],[21600,0],[21900,-.02],[22200,.02],[22500,-.02],[22800,.02],[23100,.04],[23400,0],[23700,.02],[24000,-.02],[24300,.02],[24600,.04],[24900,.06],[25200,.08],[25500,.108],[25800,.1],[26100,.06],[26400,.04],[26700,0],[27000,-.02],[27300,-.04],[27600,-.02],[27900,-.04],[28200,-.02],[28500,0],[28800,-.02],[29100,.02],[29400,0],[29700,.04],[30000,.02],[30300,.05],[30600,.04],[30900,.06],[31200,.05],[31500,.066],[31800,.06],[32100,.07],[32400,.064],[32700,.07],[33000,.072],[33300,.06],[33600,.064],[33900,.05],[34200,.03],[34500,.05],[34800,.02],[35100,0],[35400,-.02],[35700,.01],[36000,-.01],[36300,.02],[36600,0],[36900,.03],[37200,.01],[37500,.04],[37800,.02],[38100,0],[38400,-.01],[38700,.01],[39000,-.02],[39300,0],[39600,.02],[39900,.03],[40200,.04],[40500,.02],[40800,.03],[41100,0],[41400,.01],[41700,-.02],[42000,-.04],[42300,-.045],[42600,-.03],[42900,-.045],[43200,-.02],[43500,-.04],[43800,-.01],[44100,.02],[44400,.044],[44700,.03],[45000,.04],[45300,.02],[45600,0],[45900,.01],[46200,-.01],[46500,.01],[46800,0],[47100,.02],[47400,.01],[47700,-.01],[48000,.01],[48300,-.02],[48600,0],[48900,-.01],[49200,.01],[49500,-.02],[49800,-.01],[50100,-.03],[50400,-.01],[50700,0],[51000,-.02],[51300,.01],[51600,-.01],[51900,.01],[52200,-.01],[52500,.005],[52800,-.03],[53100,-.01],[53400,0],[53700,-.02],[54000,.005],[54600,-.01],[55200,.005],[55800,-.01],[56400,.005],[57000,-.01],[57600,0],[58200,-.01],[58800,-.03],[59100,-.04],[59400,-.02],[59700,-.04],[60000,-.02],[60300,0],[60600,-.02],[60900,-.04],[61200,-.02],[61500,0],[61800,.005],[62400,-.01],[63000,.005],[63600,-.01],[64200,.005],[64800,-.02],[65100,-.03],[65400,-.01],[65700,-.025],[66000,0],[66300,-.02],[66600,-.01],[66900,0],[67200,-.015],[67500,.005],[67800,-.01],[68100,.01],[68400,-.005],[68700,.015],[69000,.005],[69300,.02],[69600,.025],[69900,.01],[70200,.02],[70500,0],[70800,.01],[71100,-.01],[71400,.005],[71700,-.015],[72000,.01],[72300,-.005],[72600,.015],[72900,0],[73200,.01],[73500,-.01],[73800,.005],[74100,-.015],[74400,-.005],[74700,-.02],[75000,-.03],[75300,-.02],[75600,-.04],[75900,-.03],[76200,-.035],[76500,-.045],[76800,-.04],[77100,-.05],[77400,-.045],[77700,-.04],[78000,-.03],[78300,-.02],[78600,-.03],[78900,-.01],[79200,-.02],[79500,0],[79800,-.01],[80100,.01],[80400,0],[80700,.015],[81000,.005],[81300,.02],[81600,.01],[81900,.025],[82200,.005],[82500,.015],[82800,-.005],[83100,.01],[83400,-.01],[83700,.005],[84000,-.015],[84300,-.025],[84600,-.01],[84900,-.02],[85200,0],[85500,.01],[85800,.025],[86100,.03],[86400,.02],[86700,.03],[87000,.01],[87300,.02],[87600,0],[87900,.01],[88200,-.01],[88500,.005],[88800,-.005],[89100,.01],[89400,-.01],[89700,.015],[90000,0],[90300,.01],[90600,-.005],[90900,.015],[91200,0],[91500,-.01],[91800,.01],[92100,-.005],[92400,.015],[92700,0],[93000,.01],[93300,-.01],[93600,.005],[93900,.015],[94200,-.005],[94500,.01],[94800,-.01],[95100,.015],[95400,0],[95700,.01],[96000,-.005],[96300,.015],[96600,0],[96900,.01],[97200,-.01],[97500,.005],[97800,.015],[98100,-.005],[98400,.01],[98700,0],[99000,.01],[99300,-.005],[99600,.01],[100000,0]];

const wlsOrange: P[] = [[3000,-.04],[3300,-.08],[3600,-.04],[3900,-.08],[4200,-.06],[4500,-.08],[4800,-.04],[5100,-.08],[5400,-.06],[5700,-.064],[6000,-.08],[6300,-.1],[6500,-.12],[6900,-.12],[7100,-.08],[7400,-.04],[7700,-.06],[8000,-.04],[8300,-.02],[8600,-.04],[8900,0],[9200,-.04],[9500,-.02],[9800,-.04],[10100,-.06],[10400,-.04],[10700,-.06],[11000,-.08],[11300,-.06],[11600,-.08],[11900,-.06],[12200,-.08],[12500,-.04],[12800,-.08],
  ...wlsWave,
  [70500,-.04],[70700,-.02],[70800,-.055],[71000,-.04],[73700,-.04],[73700,0],[76700,0],[76700,-.04],[78000,-.04],[78300,-.035],[78600,-.045],[78900,-.035],[79200,-.04],[79500,-.03],[79800,-.04],[80100,-.045],[80300,-.02],[80600,0],[80900,.02],[81000,.035],[81600,.03],[82000,.035],[82700,.035],[83000,.02],[83300,.005],[83600,-.01],[83900,.01],[84200,-.005],[84500,.015],[84800,.02],[85100,.005],[85400,.01],[85700,-.005],[86000,.02],[86300,.005],[86600,-.01],[86900,.005],[87200,-.005],[87500,.01],[87800,-.005],[88100,.005],[88400,-.01],[88700,.005],[89000,-.005],[89300,.01],[89600,-.005],[89900,.005],[90200,-.01],[90500,.005],[90800,-.005],[91100,.01],[91400,-.005],[91700,0],[92000,-.01],[92300,.005],[92600,-.005],[92900,.008],[93200,-.008],[93500,.005],[93800,-.005],[94100,0],[94400,-.008],[94700,.005],[95000,-.005],[95300,.008],[95600,-.008],[95900,0],[96200,.005],[96500,-.008],[96800,0],[97100,.008],[97400,-.005],[97700,0],[98000,-.008],[98300,.005],[98600,-.005],[98900,0],[99200,-.008],[99500,0],[100000,-.004]];

const wlsGreen: P[] = [[3000,.04],[3500,0],[4000,.04],[6400,.04],[6400,0],[9600,0],[9600,.04],[12800,.04],[12800,0],[13600,0],[14000,.04],[14800,.04],[15200,.05],[15600,.04],[16000,.02],[16400,.04],[16800,0],[17200,.02],[17600,.04],[18000,0],[18400,.01],[18800,-.01],[19200,0],[19600,.01],[20000,0],[20400,.02],[20800,0],[21200,.02],[21600,.03],[22000,.04],[22400,.03],[22800,.04],[23200,.035],[23600,.02],[24000,.03],[24400,.01],[24800,.02],[25200,.03],[25600,.045],[25900,.05],[26200,.04],[28800,.04],[28800,0],[29300,.01],[29800,-.005],[30300,.005],[30800,0],[31400,.005],[31900,0],[31900,.04],[33000,.04],[33400,.045],[33800,.04],[35500,.04],[35500,.01],[35900,-.01],[36300,-.03],[36700,-.035],[37100,-.02],[37500,0],[37900,-.015],[38300,.005],[38700,.01],[39100,0],[39500,.02],[39900,.01],[40300,.04],[40700,.02],[41100,.045],[41500,.01],[41900,-.01],[42300,-.02],[42700,-.03],[43100,-.035],[43500,-.02],[43900,-.01],[44300,-.025],[44700,0],[45100,.01],[45500,0],[45900,.01],[46300,.005],[46700,.01],[47100,0],[47500,.01],[47900,.005],[48300,.012],[48700,0],[49100,.01],[49500,.005],[49900,.01],[50300,0],[50700,.01],[51100,-.005],[51500,.008],[51900,-.01],[52300,.005],[52700,-.01],[53100,.008],[53500,0],[53900,.01],[54300,-.005],[54700,.008],[55100,0],[55500,.01],[55900,0],[56300,.008],[56700,.002],[57100,.01],[57500,0],[57900,.008],[58300,0],[58700,.01],[59100,.002],[59500,.008],[59900,0],[60300,.01],[60700,0],[61100,.008],[61500,.002],[61900,.01],[62300,0],[62700,.008],[63100,0],[63500,.01],[63900,.002],[64300,.008],[64700,0],[65100,.01],[65500,0],[65900,.008],[66300,.002],[66700,.01],[67100,0],[67500,.008],[67900,0],[68300,.005],[68700,-.005],[69100,.005],[69500,0],[72000,.004],[75000,-.004],[78000,.004],[81000,-.004],[84000,.004],[87000,-.004],[90000,.004],[93000,-.004],[96000,.004],[100000,0]];

const wlsRed: P[] = [[3000,-.04],[3200,-.04],[3200,0],[6400,0],[6400,-.04],[9600,-.04],[9600,0],[12800,0],
  ...wlsWave,
  [67500,-.02],[67800,-.03],[68100,-.01],[68400,0],[68700,.02],[69000,.04],[69300,.03],[69600,.04],[69900,.02],[70200,.03],[70500,.01],[70800,-.01],[71100,.01],[71400,-.02],[71700,-.01],[72000,-.03],[72300,-.02],[72600,-.03],[72900,-.01],[73200,-.025],[73500,-.005],[73800,.01],[74100,0],[74400,.02],[74700,.01],[75000,.03],[75300,.015],[75600,.025],[75900,.01],[76200,.02],[76500,0],[76800,.01],[77100,-.005],[77400,.015],[77700,0],[78000,.02],[78300,.03],[78600,.01],[78900,.02],[79200,.005],[79500,.015],[79800,-.005],[80100,.01],[80400,-.01],[80700,.005],[81000,-.005],[81300,.01],[81600,-.01],[81900,0],[82200,-.01],[82500,.005],[82800,-.005],[83100,.01],[83400,-.01],[83700,0],[84000,-.01],[84300,.005],[84600,-.005],[84900,.005],[85200,-.01],[85500,0],[85800,-.008],[86100,.005],[86400,-.008],[86700,0],[87000,-.01],[87300,.005],[87600,-.005],[87900,0],[88200,-.008],[88500,.005],[88800,-.008],[89100,0],[89400,-.005],[89700,.005],[90000,-.008],[90300,0],[90600,-.005],[90900,.004],[91200,-.008],[91500,0],[91800,-.005],[92100,.004],[92400,-.008],[92700,0],[93000,-.005],[93300,.004],[93600,-.008],[93900,0],[94200,-.005],[94500,.004],[94800,-.008],[95100,0],[95400,-.005],[95700,.004],[96000,-.008],[96300,0],[96600,-.005],[96900,.004],[97200,-.008],[97500,0],[97800,-.005],[98100,.004],[98400,-.008],[98700,0],[99000,-.005],[99300,.004],[99600,-.008],[100000,-.006]];

const wlsPurple: P[] = [[3000,-.04],[3300,.08],[3600,.04],[3900,.08],[4500,.08],[4800,.04],[5100,.08],[5700,.08],[6000,.06],[6300,.08],[6600,.04],[6900,.08],[7200,.06],[7500,.04],[7800,0],[8100,-.04],[8400,-.02],[8700,-.04],[9000,-.06],[9300,-.04],[9600,-.08],[9900,-.06],[10200,-.08],[10500,-.04],[10800,-.06],[11100,-.04],[11400,-.06],[11700,-.04],[12000,-.05],[12300,-.04],[12600,-.06],[12900,-.04],[13200,-.05],[13500,-.04],[16000,-.04],[16000,0],[19200,0],[19200,-.04],[22400,-.04],[22400,0],[25600,0],[25600,-.04],[28800,-.04],[28800,0],[29400,.02],[29700,0],[30000,.015],[30300,-.005],[30600,.01],[30900,-.01],[31200,.005],[31500,-.02],[31800,-.04],[32200,-.045],[32600,-.04],[33000,-.05],[33400,-.045],[33800,-.055],[34200,-.045],[34600,-.04],[35000,-.05],[35200,-.04],[35200,0],[38200,0],[38400,.04],[38600,.08],[39000,.075],[39400,.08],[40000,.08],[40400,.075],[40800,.08],[41900,.08],[42100,.04],[42300,0],[42600,-.02],[42900,.01],[43200,-.04],[43500,-.02],[43800,-.03],[44100,-.01],[44400,.02],[44700,.04],[46700,.04],[46900,.02],[47200,-.01],[47500,-.04],[47800,-.03],[48100,-.045],[48400,-.02],[48700,.01],[49000,.04],[49300,.02],[49600,.06],[49900,.04],[50200,.08],[50500,.06],[50800,.02],[51100,.04],[51400,0],[51700,.02],[52000,-.01],[52300,0],[52600,-.02],[52900,-.04],[53200,-.05],[53500,-.06],[53800,-.07],[54100,-.08],[54400,-.06],[54700,-.08],[55000,-.07],[55300,-.075],[55600,-.06],[55900,-.07],[56200,-.05],[56500,-.06],[56800,-.04],[57100,-.05],[57400,-.03],[57700,-.04],[58000,-.02],[58300,-.03],[58600,0],[58900,.01],[59200,.03],[59500,.02],[59800,.04],[60100,.03],[60400,.035],[60700,.02],[61000,-.01],[61300,-.03],[61600,-.05],[61900,-.04],[62200,-.06],[62500,-.05],[62800,-.07],[63100,-.06],[63400,-.08],[63700,-.065],[64000,-.07],[64300,-.05],[64600,-.06],[64900,-.045],[65200,-.055],[65500,-.04],[65800,-.045],[66100,-.03],[66400,-.035],[66700,-.02],[67000,-.01],[67300,-.02],[67600,0],[67900,-.01],[68200,.01],[68500,0],[68800,.015],[69100,.005],[69400,.02],[69700,.01],[70000,.03],[70300,.02],[70600,.01],[70900,-.01],[71200,.01],[71500,-.02],[71800,0],[72100,.015],[72400,-.01],[72700,.01],[73000,-.015],[73300,.005],[73600,-.01],[73900,.01],[74200,-.005],[74500,.005],[74800,-.01],[75100,.01],[75400,-.005],[75700,.01],[76000,-.01],[76300,.005],[76600,-.015],[76900,0],[77200,-.02],[77500,-.005],[77800,.01],[78100,-.01],[78400,.015],[78700,-.005],[79000,.01],[79300,-.015],[79600,0],[79900,.01],[80200,-.01],[80500,.005],[80800,-.01],[81100,.008],[81400,-.008],[81700,.005],[82000,-.01],[82300,.008],[82600,-.005],[82900,.005],[83200,-.008],[83500,.008],[83800,-.005],[84100,.005],[84400,-.01],[84700,.005],[85000,-.005],[85300,.008],[85600,-.008],[85900,.005],[86200,-.005],[86500,.008],[86800,-.008],[87100,.004],[87400,-.004],[87700,.008],[88000,-.006],[88300,.004],[88600,-.008],[88900,.006],[89200,-.004],[89500,.006],[89800,-.006],[90100,.004],[90400,-.006],[90700,.006],[91000,-.004],[91300,.004],[91600,-.006],[91900,.006],[92200,-.004],[92500,.004],[92800,-.006],[93100,.006],[93400,-.004],[93700,.004],[94000,-.006],[94300,.006],[94600,-.004],[94900,.004],[95200,-.006],[95500,.006],[95800,-.004],[96100,.004],[96400,-.006],[96700,.006],[97000,-.004],[97300,.004],[97600,-.006],[97900,.006],[98200,-.004],[98500,.004],[98800,-.006],[99100,.004],[99400,-.004],[99700,.004],[100000,0]];

// ---------------- ZD-Extortioner ----------------
const zdWave: P[] = [[3000,-.04],[3100,-.04],[3100,0],[6200,0],[6200,-.04],[9450,-.04],[9450,0],[12700,0],[12700,-.04],[15950,-.04],[15950,0],[19100,0],[19100,-.04],[22400,-.04],[22400,0],[25600,0],[25600,-.04],[28900,-.04],[28900,0],[32100,0],[32100,-.04],[35350,-.04],[35350,0],[38600,0],[38600,-.04],[41900,-.04],[41900,0],[45150,0],[45150,-.04],[48400,-.04],[48400,0],[51700,0],[51700,-.04],[54950,-.04],[54950,0],[58250,0],[58250,-.04],[61450,-.04],[61450,0],[64750,0],[64750,-.04],[67950,-.04],[67950,0],[71250,0],[71250,-.04],[74450,-.04],[74450,0],[77600,0],[77600,-.04],[80950,-.04],[80950,0],[84100,0],[84100,-.04],[87350,-.04],[87350,0],[90550,0],[90550,-.04],[93850,-.04],[93850,0],[96950,0],[96950,-.04],[99800,-.04],[99800,0],[100000,0]];

const zdBlue: P[] = [...seg(zdWave, 3000, 6200),
  [8300,-.04],[8600,-.03],[8900,-.04],[9200,-.02],[9500,-.03],[9800,-.01],[10100,.01],[10400,.025],[10700,.02],[11000,.035],[11300,.03],[11600,.045],[11900,.035],[12200,.06],[12400,.05],[12600,.08],[12800,.065],[13100,.075],[13400,.05],[13700,.07],[14000,.04],[14300,.06],[14600,.025],[14900,.05],[15200,.035],[15500,.065],[15800,.04],[16100,.055],[16400,.03],[16700,.06],[17000,.045],[17300,.065],[17600,.05],[17900,.07],[18200,.04],[18500,.055],[18800,.02],[19100,.01],[19400,-.02],[19700,-.04],[20000,-.055],[20300,-.065],[20600,-.06],[20900,-.068],[21200,-.062],[21500,-.068],[21800,-.055],[22100,-.045],[22400,-.03],[22700,-.035],[23000,-.015],[23300,0],[23600,.01],[23900,.005],[24200,.02],[24500,.015],[24800,.04],[25100,.025],[25400,.035],[25700,.02],[26000,.04],[26300,.03],[26600,.045],[26900,.035],[27200,.055],[27500,.045],[27800,.065],[28100,.06],[28400,.075],[28700,.07],[29000,.08],[29300,.075],[29600,.08],[29900,.06],[30200,.045],[30500,.03],[30800,.01],[31100,-.01],[31400,-.03],[31700,-.04],[32000,-.055],[32300,-.065],[32600,-.075],[32900,-.083],[33200,-.07],[33500,-.065],[33800,-.05],[34100,-.045],[34400,-.035],[34700,-.02],[35000,-.01],[35300,0],[35600,.015],[35900,.03],[36200,.045],[36500,.035],[36800,.05],[37100,.045],[37400,.06],[37700,.05],[38000,.04],[38300,.02],[38600,0],[38900,-.02],[39200,-.035],[39500,-.05],[39800,-.06],[40100,-.055],[40400,-.07],[40700,-.075],[41000,-.065],[41300,-.08],[41600,-.07],[41900,-.055],[42200,-.045],[42500,-.05],[42800,-.035],[43100,-.04],[43400,-.03],[43700,-.02],[44000,-.01],[44300,-.02],[44600,0],[44800,.004],[45000,-.04],[45500,-.044],[46000,-.04],[46500,-.044],[47000,-.04],[47500,-.044],[48000,-.04],
  ...seg(zdWave, 48400, 100000)];

const zdOrange: P[] = [...seg(zdWave, 3000, 45150),
  [47500,-.04],[47700,0],[48000,.005],[48300,0],[48600,.01],[48900,.015],[49200,.01],[49400,.02],[49700,.015],[50000,.005],[50300,.01],[50600,-.01],[50900,-.005],[51200,-.02],[51500,-.035],[51800,-.03],[52100,-.045],[52400,-.04],[52700,-.055],[53000,-.06],[53300,-.05],[53600,-.04],[53900,-.035],[54200,-.03],[54500,-.02],[54800,-.005],[55100,.005],[55400,-.005],[55700,0],[56000,.005],[56300,-.01],[56600,0],[56900,-.02],[57200,-.04],[57600,-.045],[57900,-.04],
  ...seg(zdWave, 58250, 100000)];

const zdGreen: P[] = [[3000,-.04],[3100,-.04],[3100,0],[4700,0],[4800,.02],[5800,.02],[5900,0],[6200,0],[6200,-.04],[6800,-.04],[7100,-.045],[7400,-.03],[7600,-.025],[7900,-.04],[8100,-.06],[8600,-.06],[8900,-.05],[9200,-.04],[9500,-.03],[9800,-.035],[10100,-.01],[10400,0],[10700,-.005],[11000,.01],[11300,.005],[11600,0],[11900,.005],[12200,-.01],[12500,-.02],[12800,-.03],[13100,-.035],[13400,-.025],[13700,-.03],[14000,-.02],[14300,-.01],[14600,0],[14900,-.005],[15200,.01],[15500,.015],[15800,.02],[16100,.01],[16400,.025],[16700,.015],[17000,.025],[17300,.005],[17600,-.015],[17900,-.03],[18200,-.04],[18500,-.045],[18800,-.035],[19100,-.045],[19400,-.03],[19700,-.04],[20000,-.025],[20300,-.05],[20600,-.03],[20900,-.035],[21200,-.025],[21500,-.03],[21800,-.015],[22100,-.02],[22400,-.01],[22700,-.03],[23000,0],[23300,.005],[23600,-.005],[23900,.01],[24200,.005],[24500,.015],[24800,.01],[25100,.02],[25400,.01],[25700,-.01],[26000,-.02],[26300,-.035],[26600,-.045],[26900,-.04],[27200,-.055],[27500,-.06],[27800,-.045],[28100,-.05],[28400,-.04],
  ...seg(zdWave, 28900, 100000)];

const zdRed: P[] = zdWave;
const zdPurple: P[] = [...seg(zdWave, 3000, 3100), [3300,0],[3400,.004],[3500,0], ...seg(zdWave, 6200, 6200), [7300,-.04],[7400,-.044],[7500,-.04], ...seg(zdWave, 9450, 100000)];

// ---------------- layout ----------------
const panels = [
  { title: 'Cooperator', l: 64, r: 361, t: 28, b: 210, yDom: [-0.0404, 0.0564], yTicks: [-0.04, -0.02, 0, 0.02, 0.04], dec: 2, legend: 'ur', ylabOff: 51,
    data: [coopBlue, coopOrange, coopGreen, coopRed, coopPurple] },
  { title: 'Defector', l: 445.5, r: 742, t: 27.7, b: 209.5, yDom: [-0.0818, 0.0458], yTicks: [-0.08, -0.06, -0.04, -0.02, 0, 0.02, 0.04], dec: 2, legend: 'll', ylabOff: 51,
    data: [defBlue, defOrange, defGreen, defRed, defPurple] },
  { title: 'TitForTat', l: 825.7, r: 1122.7, t: 28, b: 210, yDom: [-0.045, 0.065], yTicks: [-0.04, -0.02, 0, 0.02, 0.04, 0.06], dec: 2, legend: 'ur', ylabOff: 51,
    data: [ttBlue, ttOrange, ttGreen, ttRed, ttPurple] },
  { title: 'WinLooseSwitch', l: 254.5, r: 551.7, t: 284.3, b: 466.5, yDom: [-0.132, 0.132], yTicks: [-0.1, -0.05, 0, 0.05, 0.1], dec: 2, legend: 'ul', ylabOff: 51,
    data: [wlsBlue, wlsOrange, wlsGreen, wlsRed, wlsPurple] },
  { title: 'ZD-Extortioner', l: 642.5, r: 933.3, t: 288.3, b: 466.7, yDom: [-0.0922, 0.0882], yTicks: [-0.075, -0.05, -0.025, 0, 0.025, 0.05, 0.075], dec: 3, legend: 'ur', ylabOff: 59,
    data: [zdBlue, zdOrange, zdGreen, zdRed, zdPurple] },
];

const FONT = 'DejaVu Sans';
const LW = 46, LH = 97;

function Panel({ p, id }: { p: any; id: number }) {
  const { l, r, t, b } = p;
  const x = d3.scaleLinear().domain(xDomain).range([l, r]);
  const y = d3.scaleLinear().domain(p.yDom).range([b, t]);
  const line = d3.line<P>().x(d => x(d[0])).y(d => y(d[1]));
  const fmt = d3.format(`.${p.dec}f`);
  const lx = p.legend === 'ur' ? r - 5 - LW : l + 5;
  const ly = p.legend === 'll' ? b - 5 - LH : t + 5;
  const cx = (l + r) / 2;
  const cy = (t + b) / 2;
  return (
    <g>
      <defs>
        <clipPath id={`clip${id}`}>
          <rect x={l} y={t} width={r - l} height={b - t} />
        </clipPath>
      </defs>
      <g clipPath={`url(#clip${id})`}>
        {p.data.map((s: P[], k: number) => (
          <path key={k} d={line(s) || ''} fill="none" stroke={colors[k]} strokeWidth={1.5} strokeLinejoin="round" />
        ))}
      </g>
      <rect x={l} y={t} width={r - l} height={b - t} fill="none" stroke="#000" strokeWidth={0.8} />
      {xTicks.map(v => (
        <g key={v}>
          <line x1={x(v)} x2={x(v)} y1={b} y2={b + 3.5} stroke="#000" strokeWidth={0.8} />
          <text x={x(v)} y={b + 14.5} fontSize={10} textAnchor="middle" fill="#000">{String(v)}</text>
        </g>
      ))}
      {p.yTicks.map((v: number) => (
        <g key={v}>
          <line x1={l - 3.5} x2={l} y1={y(v)} y2={y(v)} stroke="#000" strokeWidth={0.8} />
          <text x={l - 7} y={y(v) + 3.6} fontSize={10} textAnchor="end" fill="#000">{fmt(v)}</text>
        </g>
      ))}
      <text x={cx - 4.5} y={t - 13.4} fontSize={13.7} textAnchor="middle" fill="#000">{p.title}</text>
      <text x={cx} y={b + 28.5} fontSize={11} textAnchor="middle" fill="#000">Step</text>
      <text transform={`translate(${l - p.ylabOff},${cy}) rotate(-90)`} fontSize={11} textAnchor="middle" dominantBaseline="central" fill="#000">returns</text>
      <g>
        <rect x={lx} y={ly} width={LW} height={LH} rx={2.5} fill="#fff" fillOpacity={0.8} stroke="#cccccc" strokeOpacity={0.8} strokeWidth={0.8} />
        <text x={lx + LW / 2} y={ly + 13.5} fontSize={10.8} textAnchor="middle" fill="#000">seed</text>
        {seeds.map((s, k) => {
          const yy = ly + 25.5 + k * 15.3;
          return (
            <g key={s}>
              <line x1={lx + 4.5} x2={lx + 24.5} y1={yy} y2={yy} stroke={colors[k]} strokeWidth={1.5} />
              <text x={lx + 33} y={yy + 3.7} fontSize={10.5} fill="#000">{s}</text>
            </g>
          );
        })}
      </g>
    </g>
  );
}

export default function App() {
  return (
    <svg width={1135} height={508} fontFamily={FONT} style={{ position: 'absolute', left: 0, top: 0, background: '#fff' }}>
      <rect x={0} y={0} width={1135} height={508} fill="#fff" />
      {panels.map((p, i) => <Panel key={i} p={p} id={i} />)}
    </svg>
  );
}
